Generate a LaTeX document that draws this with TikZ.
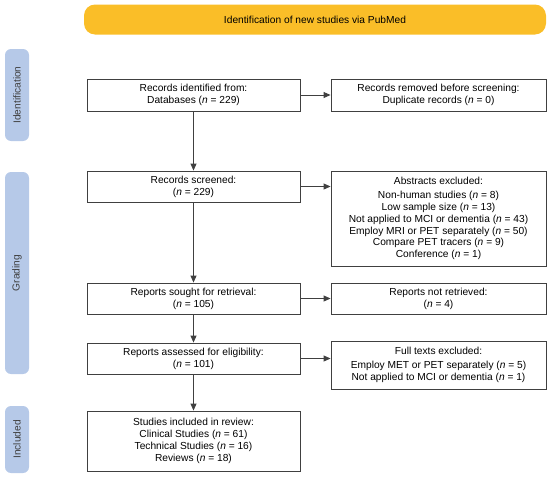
\documentclass[tikz,border=0pt]{standalone}
\usepackage{fontspec}
\setmainfont{Liberation Sans}
\usetikzlibrary{arrows.meta,calc}
\definecolor{banner}{RGB}{250,190,40}
\definecolor{side}{RGB}{182,201,232}
\definecolor{ink}{RGB}{64,64,64}
\begin{document}
\begin{tikzpicture}[x=1pt,y=-1pt,
  every node/.style={font=\fontsize{10.2}{11.8}\selectfont, text=black},
  box/.style={draw=ink, line width=0.9pt, fill=white, align=center, inner sep=0pt, minimum width=213pt},
  rbox/.style={box, minimum width=215pt},
  sidebar/.style={fill=side, rounded corners=6pt, inner sep=0pt, minimum width=24pt, text=ink},
  flow/.style={draw=ink, line width=0.9pt, -{Triangle[length=7pt,width=6pt]}}
]
\useasboundingbox (0,0) rectangle (550,479);
\node[fill=banner, rounded corners=11pt, minimum width=462pt, minimum height=30pt, inner sep=0pt] (ban) at (315,19.5) {Identification of new studies via PubMed};

\node[sidebar, minimum height=92pt] (s1) at (17,95) {\rotatebox{90}{Identification}};
\node[sidebar, minimum height=202pt] (s2) at (17,273) {\rotatebox{90}{Grading}};
\node[sidebar, minimum height=67pt] (s3) at (17,439.5) {\rotatebox{90}{Included}};

\node[box, minimum height=32pt] (b1) at (193.5,95) {Records identified from:\\Databases ({\itshape n} = 229)};
\node[rbox, minimum height=32pt] (b2) at (438.5,95) {Records removed before screening:\\Duplicate records ({\itshape n} = 0)};
\node[box, minimum height=31pt] (b3) at (193.5,186.5) {Records screened:\\({\itshape n} = 229)};
\node[rbox, minimum height=95pt] (b4) at (438.5,218.5) {Abstracts excluded:\\[2.5pt]Non-human studies ({\itshape n} = 8)\\Low sample size ({\itshape n} = 13)\\Not applied to MCI or dementia ({\itshape n} = 43)\\Employ MRI or PET separately ({\itshape n} = 50)\\Compare PET tracers ({\itshape n} = 9)\\Conference ({\itshape n} = 1)};
\node[box, minimum height=31pt] (b5) at (193.5,298.5) {Reports sought for retrieval:\\({\itshape n} = 105)};
\node[rbox, minimum height=31pt] (b6) at (438.5,298.5) {Reports not retrieved:\\({\itshape n} = 4)};
\node[box, minimum height=31pt] (b7) at (193.5,358.5) {Reports assessed for eligibility:\\({\itshape n} = 101)};
\node[rbox, minimum height=48pt] (b8) at (438.5,365) {Full texts excluded:\\[2pt]Employ MET or PET separately ({\itshape n} = 5)\\Not applied to MCI or dementia ({\itshape n} = 1)};
\node[box, minimum height=60pt] (b9) at (193.5,441) {Studies included in review:\\Clinical Studies ({\itshape n} = 61)\\Technical Studies ({\itshape n} = 16)\\Reviews ({\itshape n} = 18)};

\draw[flow] (b1) -- (b3);
\draw[flow] (b3) -- (b5);
\draw[flow] (b5) -- (b7);
\draw[flow] (b7) -- (b9);
\draw[flow] (b1) -- (b2);
\draw[flow] (b3.east) -- (b3.east -| b4.west);
\draw[flow] (b5) -- (b6);
\draw[flow] (b7.east) -- (b7.east -| b8.west);
\end{tikzpicture}
\end{document}
